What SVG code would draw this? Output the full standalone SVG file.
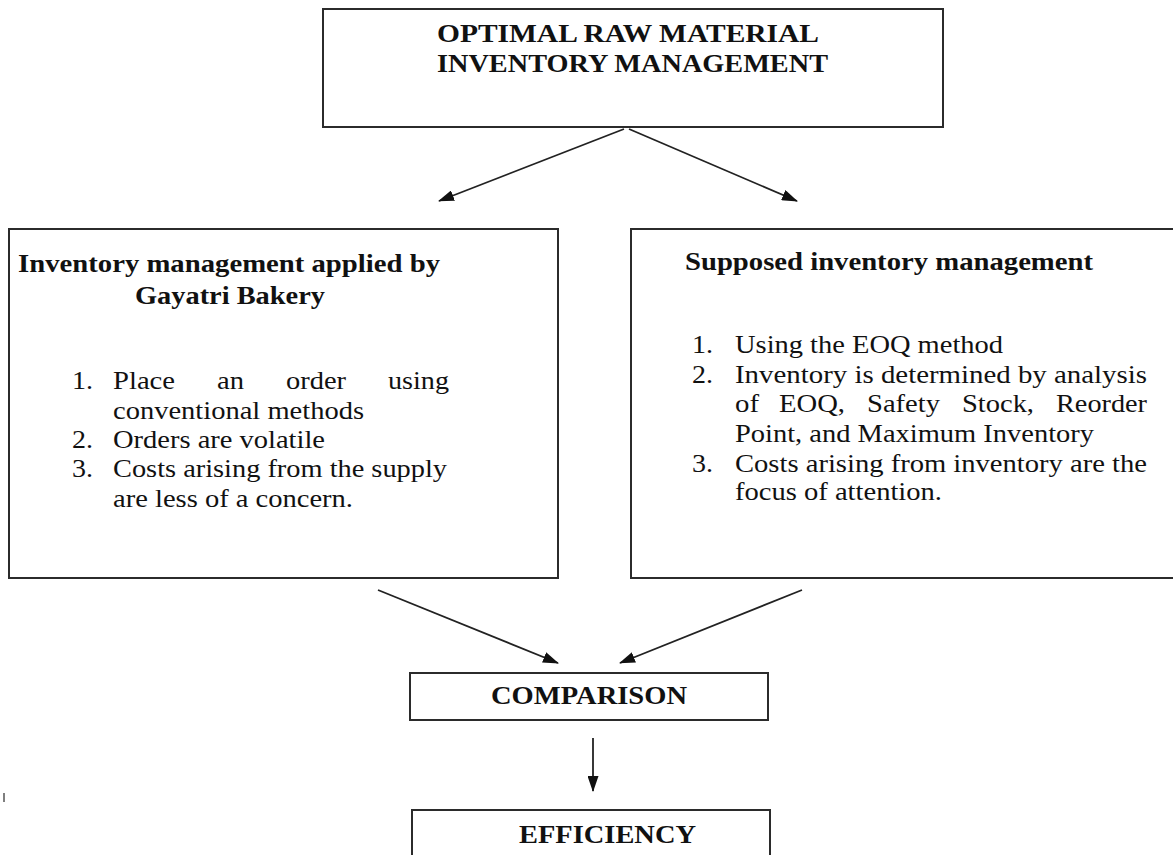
<svg xmlns="http://www.w3.org/2000/svg" width="1173" height="855" viewBox="0 0 1173 855">
<style>
.box{fill:#fff;stroke:#2b2b2b;stroke-width:2}
.t{font-family:"Liberation Serif","Times New Roman",serif;font-size:25px;fill:#111}
.b{font-weight:bold}
.conn line{stroke:#222;stroke-width:1.8;marker-end:url(#ah)}
</style>
<defs>
<marker id="ah" viewBox="0 0 16 11" refX="15" refY="5.5" markerWidth="16" markerHeight="11" markerUnits="userSpaceOnUse" orient="auto">
<path d="M0,0 L16,5.5 L0,11 z" fill="#111"/>
</marker>
</defs>
<rect width="1173" height="855" fill="#fff"/>

<g id="node-optimal">
<rect class="box" x="323" y="9" width="620" height="118"/>
<text class="t b" x="437" y="42" textLength="382" lengthAdjust="spacingAndGlyphs">OPTIMAL RAW MATERIAL</text>
<text class="t b" x="437" y="72" textLength="391" lengthAdjust="spacingAndGlyphs">INVENTORY MANAGEMENT</text>
</g>

<g id="node-applied">
<rect class="box" x="9" y="229" width="549" height="349"/>
<text class="t b" x="18" y="272" textLength="422" lengthAdjust="spacingAndGlyphs">Inventory management applied by</text>
<text class="t b" x="135" y="304" textLength="190" lengthAdjust="spacingAndGlyphs">Gayatri Bakery</text>
<text class="t" x="72" y="389" textLength="21" lengthAdjust="spacingAndGlyphs">1.</text>
<text class="t" x="113" y="389" textLength="62" lengthAdjust="spacingAndGlyphs">Place</text>
<text class="t" x="217" y="389" textLength="27" lengthAdjust="spacingAndGlyphs">an</text>
<text class="t" x="286" y="389" textLength="60" lengthAdjust="spacingAndGlyphs">order</text>
<text class="t" x="388" y="389" textLength="61" lengthAdjust="spacingAndGlyphs">using</text>
<text class="t" x="113" y="419" textLength="251" lengthAdjust="spacingAndGlyphs">conventional methods</text>
<text class="t" x="72" y="448" textLength="21" lengthAdjust="spacingAndGlyphs">2.</text>
<text class="t" x="113" y="448" textLength="212" lengthAdjust="spacingAndGlyphs">Orders are volatile</text>
<text class="t" x="72" y="477" textLength="21" lengthAdjust="spacingAndGlyphs">3.</text>
<text class="t" x="113" y="477" textLength="334" lengthAdjust="spacingAndGlyphs">Costs arising from the supply</text>
<text class="t" x="113" y="507" textLength="240" lengthAdjust="spacingAndGlyphs">are less of a concern.</text>
</g>

<g id="node-supposed">
<rect class="box" x="631" y="229" width="560" height="349"/>
<text class="t b" x="685" y="270" textLength="408" lengthAdjust="spacingAndGlyphs">Supposed inventory management</text>
<text class="t" x="692" y="353" textLength="21" lengthAdjust="spacingAndGlyphs">1.</text>
<text class="t" x="735" y="353" textLength="268" lengthAdjust="spacingAndGlyphs">Using the EOQ method</text>
<text class="t" x="692" y="383" textLength="21" lengthAdjust="spacingAndGlyphs">2.</text>
<text class="t" x="735" y="383" textLength="412" lengthAdjust="spacingAndGlyphs">Inventory is determined by analysis</text>
<text class="t" x="735" y="412" textLength="24" lengthAdjust="spacingAndGlyphs">of</text>
<text class="t" x="779" y="412" textLength="66" lengthAdjust="spacingAndGlyphs">EOQ,</text>
<text class="t" x="867" y="412" textLength="73" lengthAdjust="spacingAndGlyphs">Safety</text>
<text class="t" x="962" y="412" textLength="72" lengthAdjust="spacingAndGlyphs">Stock,</text>
<text class="t" x="1056" y="412" textLength="91" lengthAdjust="spacingAndGlyphs">Reorder</text>
<text class="t" x="735" y="442" textLength="359" lengthAdjust="spacingAndGlyphs">Point, and Maximum Inventory</text>
<text class="t" x="692" y="472" textLength="21" lengthAdjust="spacingAndGlyphs">3.</text>
<text class="t" x="735" y="472" textLength="412" lengthAdjust="spacingAndGlyphs">Costs arising from inventory are the</text>
<text class="t" x="735" y="500" textLength="207" lengthAdjust="spacingAndGlyphs">focus of attention.</text>
</g>

<g id="node-comparison">
<rect class="box" x="410" y="673" width="358" height="47"/>
<text class="t b" x="491" y="704" textLength="196" lengthAdjust="spacingAndGlyphs">COMPARISON</text>
</g>

<g id="node-efficiency">
<rect class="box" x="412" y="810" width="358" height="60"/>
<text class="t b" x="519" y="843" textLength="177" lengthAdjust="spacingAndGlyphs">EFFICIENCY</text>
</g>

<g id="connectors" class="conn">
<line x1="624" y1="129" x2="439" y2="201"/>
<line x1="629" y1="129" x2="797" y2="201"/>
<line x1="378" y1="590" x2="558" y2="663"/>
<line x1="802" y1="590" x2="620" y2="663"/>
<line x1="593" y1="738" x2="593" y2="791"/>
</g>

<line x1="4" y1="793" x2="4" y2="802" stroke="#555" stroke-width="1.5"/>
</svg>
